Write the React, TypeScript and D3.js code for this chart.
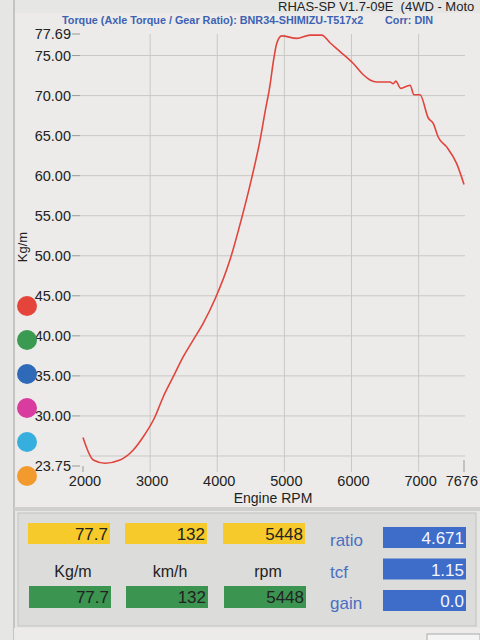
import React from "react";
import * as d3 from "d3";

const rpm = [2000, 2153, 2328, 2551, 2749, 2898, 3073, 3196, 3345, 3494, 3643, 3792, 3967, 4190, 4364, 4513, 4637, 4711, 4786, 4835, 4886, 4960, 5184, 5382, 5556, 5680, 5829, 6027, 6176, 6276, 6375, 6574, 6623, 6659, 6733, 6872, 6931, 7021, 7144, 7219, 7293, 7418, 7567, 7676];
const torque = [27.3, 24.5, 24.1, 24.5, 25.75, 27.4, 29.9, 32.4, 34.9, 37.4, 39.5, 41.6, 44.6, 49.5, 54.7, 59.7, 64.4, 67.9, 71.3, 74.2, 76.5, 77.45, 77.15, 77.55, 77.55, 76.6, 75.5, 74.0, 72.6, 71.95, 71.7, 71.7, 71.5, 71.8, 70.9, 71.3, 70.1, 70.1, 67.2, 66.5, 64.8, 63.6, 61.5, 58.9];

const yTickLabels = [77.69, 75, 70, 65, 60, 55, 50, 45, 40, 35, 30, 23.75];
const yGrid = [75, 70, 65, 60, 55, 50, 45, 40, 35, 30, 25];
const xTicks = [2000, 3000, 4000, 5000, 6000, 7000, 7676];
const xGrid = [3000, 4000, 5000, 6000, 7000];

const dotColors = ["#e5443a", "#3a9a52", "#2f6ab8", "#d73c9e", "#36aede", "#f39a2e"];

const yellowValues = ["77.7", "132", "5448"];
const unitLabels = ["Kg/m", "km/h", "rpm"];
const greenValues = ["77.7", "132", "5448"];
const paramLabels = ["ratio", "tcf", "gain"];
const paramValues = ["4.671", "1.15", "0.0"];

const FONT = "'Liberation Sans', Arial, sans-serif";

export default function App() {
  const x = d3.scaleLinear().domain([2000, 7676]).range([83, 464]);
  const y = d3.scaleLinear().domain([23.75, 77.69]).range([466, 34]);
  const pts = rpm.map((r, i) => [r, torque[i]] as [number, number]);
  const line = d3
    .line<[number, number]>()
    .x((d) => x(d[0]))
    .y((d) => y(d[1]))
    .curve(d3.curveMonotoneX);

  const colX = [28, 125, 223];
  const boxW = 82;

  return (
    <div style={{ position: "absolute", left: 0, top: 0 }}>
      <svg width={480} height={640} style={{ display: "block", fontFamily: FONT }}>
        <rect x={0} y={0} width={480} height={640} fill="#e6e6e4" />
        <rect x={14} y={13} width={466} height={497} fill="#ecebe9" />
        <line x1={14} y1={0} x2={14} y2={640} stroke="#b8b8b8" strokeWidth={1.5} />
        {/* header */}
        <text x={278} y={11} fontSize={13} fill="#222" style={{ whiteSpace: "pre" }}>
          {"RHAS-SP V1.7-09E  (4WD - Moto"}
        </text>
        <text x={62} y={24} fontSize={10.8} fontWeight="bold" fill="#3d62b3">
          Torque (Axle Torque / Gear Ratio): BNR34-SHIMIZU-T517x2
        </text>
        <text x={385} y={24} fontSize={10.8} fontWeight="bold" fill="#3d62b3">Corr: DIN</text>

        {/* grid */}
        {yGrid.map((v) => (
          <line key={"gy" + v} x1={80} x2={465} y1={y(v)} y2={y(v)} stroke="#c8c8c6" strokeWidth={1} />
        ))}
        {xGrid.map((v) => (
          <line key={"gx" + v} x1={x(v)} x2={x(v)} y1={34} y2={472} stroke="#c8c8c6" strokeWidth={1} />
        ))}
        <line x1={x(7676)} x2={x(7676)} y1={460} y2={472} stroke="#999" />
        <line x1={x(2000)} x2={x(2000)} y1={466} y2={472} stroke="#999" />

        {/* y ticks */}
        {yTickLabels.map((v) => (
          <g key={"yt" + v}>
            <line x1={72} x2={80} y1={y(v)} y2={y(v)} stroke="#999" />
            <text x={71} y={y(v)} dy="0.36em" textAnchor="end" fontSize={14.5} fill="#222">
              {v.toFixed(2)}
            </text>
          </g>
        ))}
        {/* x ticks */}
        {xTicks.map((v) => (
          <text
            key={"xt" + v}
            x={v === 7676 ? 478 : x(v) + 2}
            y={486}
            textAnchor={v === 7676 ? "end" : "middle"}
            fontSize={14.5}
            fill="#222"
          >
            {v}
          </text>
        ))}
        <text x={273} y={503} textAnchor="middle" fontSize={14} fill="#222">Engine RPM</text>
        <text transform="translate(27,247) rotate(-90)" textAnchor="middle" fontSize={13} fill="#222">Kg/m</text>

        {/* colour dots */}
        {dotColors.map((c, i) => (
          <circle key={c} cx={27} cy={306 + i * 34} r={10} fill={c} />
        ))}

        {/* curve */}
        <path d={line(pts) || ""} fill="none" stroke="#e0443c" strokeWidth={1.6} />

        {/* bottom panel */}
        <rect x={14} y={507} width={466} height={4} fill="#cfcfcd" />
        <rect x={18} y={513} width={458} height={113} fill="#dcdcdb" stroke="#c2c2c0" />
        <rect x={14} y={628} width={466} height={12} fill="#ecebe9" />
        <rect x={427} y={634} width={53} height={8} fill="#f4f4f4" stroke="#aaa" />

        {yellowValues.map((v, i) => (
          <g key={"yv" + i}>
            <rect x={colX[i]} y={523} width={boxW} height={21} fill="#f5ca2a" />
            <text x={colX[i] + boxW - 2} y={540} textAnchor="end" fontSize={17} fill="#222">{v}</text>
          </g>
        ))}
        {unitLabels.map((v, i) => (
          <text key={"ul" + i} x={colX[i] + boxW / 2 + 4} y={577} textAnchor="middle" fontSize={16} fill="#222">
            {v}
          </text>
        ))}
        {greenValues.map((v, i) => (
          <g key={"gv" + i}>
            <rect x={colX[i] + 1} y={586} width={boxW} height={22} fill="#3b9450" />
            <text x={colX[i] + boxW - 1} y={603} textAnchor="end" fontSize={17} fill="#222">{v}</text>
          </g>
        ))}
        {paramLabels.map((v, i) => (
          <g key={"pl" + i}>
            <text x={330} y={546 + i * 31.5} fontSize={17} fill="#4a6fc2">{v}</text>
            <rect x={383} y={527 + i * 31.5} width={83} height={21} fill="#3d6cc9" />
            <text x={464} y={544 + i * 31.5} textAnchor="end" fontSize={17} fill="#f4f6ff">{paramValues[i]}</text>
          </g>
        ))}
      </svg>
    </div>
  );
}
